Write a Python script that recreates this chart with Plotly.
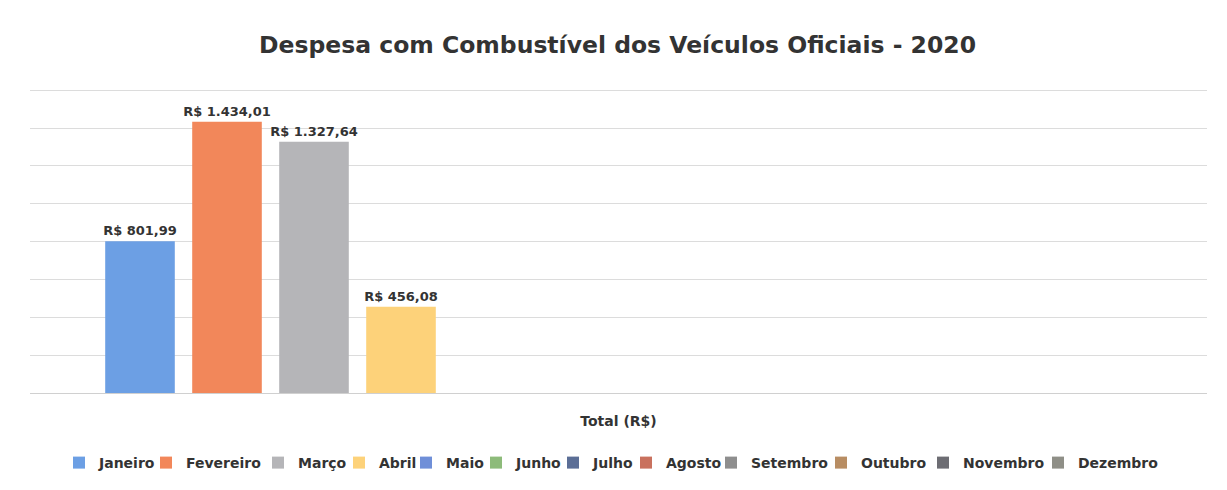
import plotly.graph_objects as go

months = ["Janeiro", "Fevereiro", "Março", "Abril", "Maio", "Junho", "Julho",
          "Agosto", "Setembro", "Outubro", "Novembro", "Dezembro"]
values = [801.99, 1434.01, 1327.64, 456.08, None, None, None, None, None, None, None, None]
labels = ["R$ 801,99", "R$ 1.434,01", "R$ 1.327,64", "R$ 456,08", "", "", "", "", "", "", "", ""]
colors = ["#6C9FE4", "#F2875A", "#B5B5B8", "#FDD27A", "#6F8FD8", "#8DBB7A", "#5B6E96",
          "#C9715E", "#8E8E8E", "#B88D63", "#6D6D73", "#8F8F87"]
category = ["Total (R$)"]
y_ticks = [0, 200, 400, 600, 800, 1000, 1200, 1400, 1600]

# left edge (px) of each legend entry's text, as placed in the reference
legend_text_px = [96, 183, 295, 376, 443, 513, 590, 663, 748, 858, 960, 1075]

W, H = 1227, 490
OFF = 8  # page body margin of the browser
FONT = "DejaVu Sans"
TXT = "#333333"

fig = go.Figure()
for i, (m, v, lab, c) in enumerate(zip(months, values, labels, colors)):
    lname = "legend" if i == 0 else f"legend{i + 1}"
    fig.add_trace(go.Bar(
        name=m, x=category, y=[v], marker=dict(color=c, line=dict(width=0)),
        text=[lab], textposition="outside", cliponaxis=False, constraintext="none",
        textfont=dict(family=FONT, size=13, color=TXT, weight="bold"),
        hoverinfo="name+y", legend=lname,
    ))

legends = {}
for i, px in enumerate(legend_text_px):
    key = "legend" if i == 0 else f"legend{i + 1}"
    legends[key] = dict(
        xref="container", yref="container",
        x=(px + 3 - 40 - OFF) / W, xanchor="left",
        y=1 - (463 - OFF) / H, yanchor="middle",
        orientation="h", itemwidth=30, bgcolor="rgba(0,0,0,0)", borderwidth=0,
        font=dict(family=FONT, size=14, color=TXT, weight="bold"),
    )

fig.update_layout(
    width=W, height=H,
    paper_bgcolor="white", plot_bgcolor="white",
    barmode="group", bargap=0.113, bargroupgap=0.2,
    margin=dict(l=30 - OFF, r=W - (1207 - OFF), t=80, b=H - (393 - OFF), autoexpand=False),
    title=dict(text="Despesa com Combustível dos Veículos Oficiais - 2020",
               x=(617.5 - OFF) / W, xanchor="center", y=1 - (45 - OFF) / H, yanchor="middle",
               font=dict(family=FONT, size=23.5, color=TXT, weight="bold")),
    showlegend=True,
    **legends,
)
fig.update_xaxes(showgrid=False, showline=False, zeroline=False,
                 tickfont=dict(family=FONT, size=14, color=TXT, weight="bold"),
                 ticks="", ticklabelstandoff=18)
fig.update_yaxes(range=[0, 1612], tickvals=y_ticks, showticklabels=False,
                 showgrid=True, gridcolor="#DCDCDC", gridwidth=1,
                 zeroline=True, zerolinecolor="#D0D0D0", zerolinewidth=1, showline=False)

fig.write_html("out.html")
